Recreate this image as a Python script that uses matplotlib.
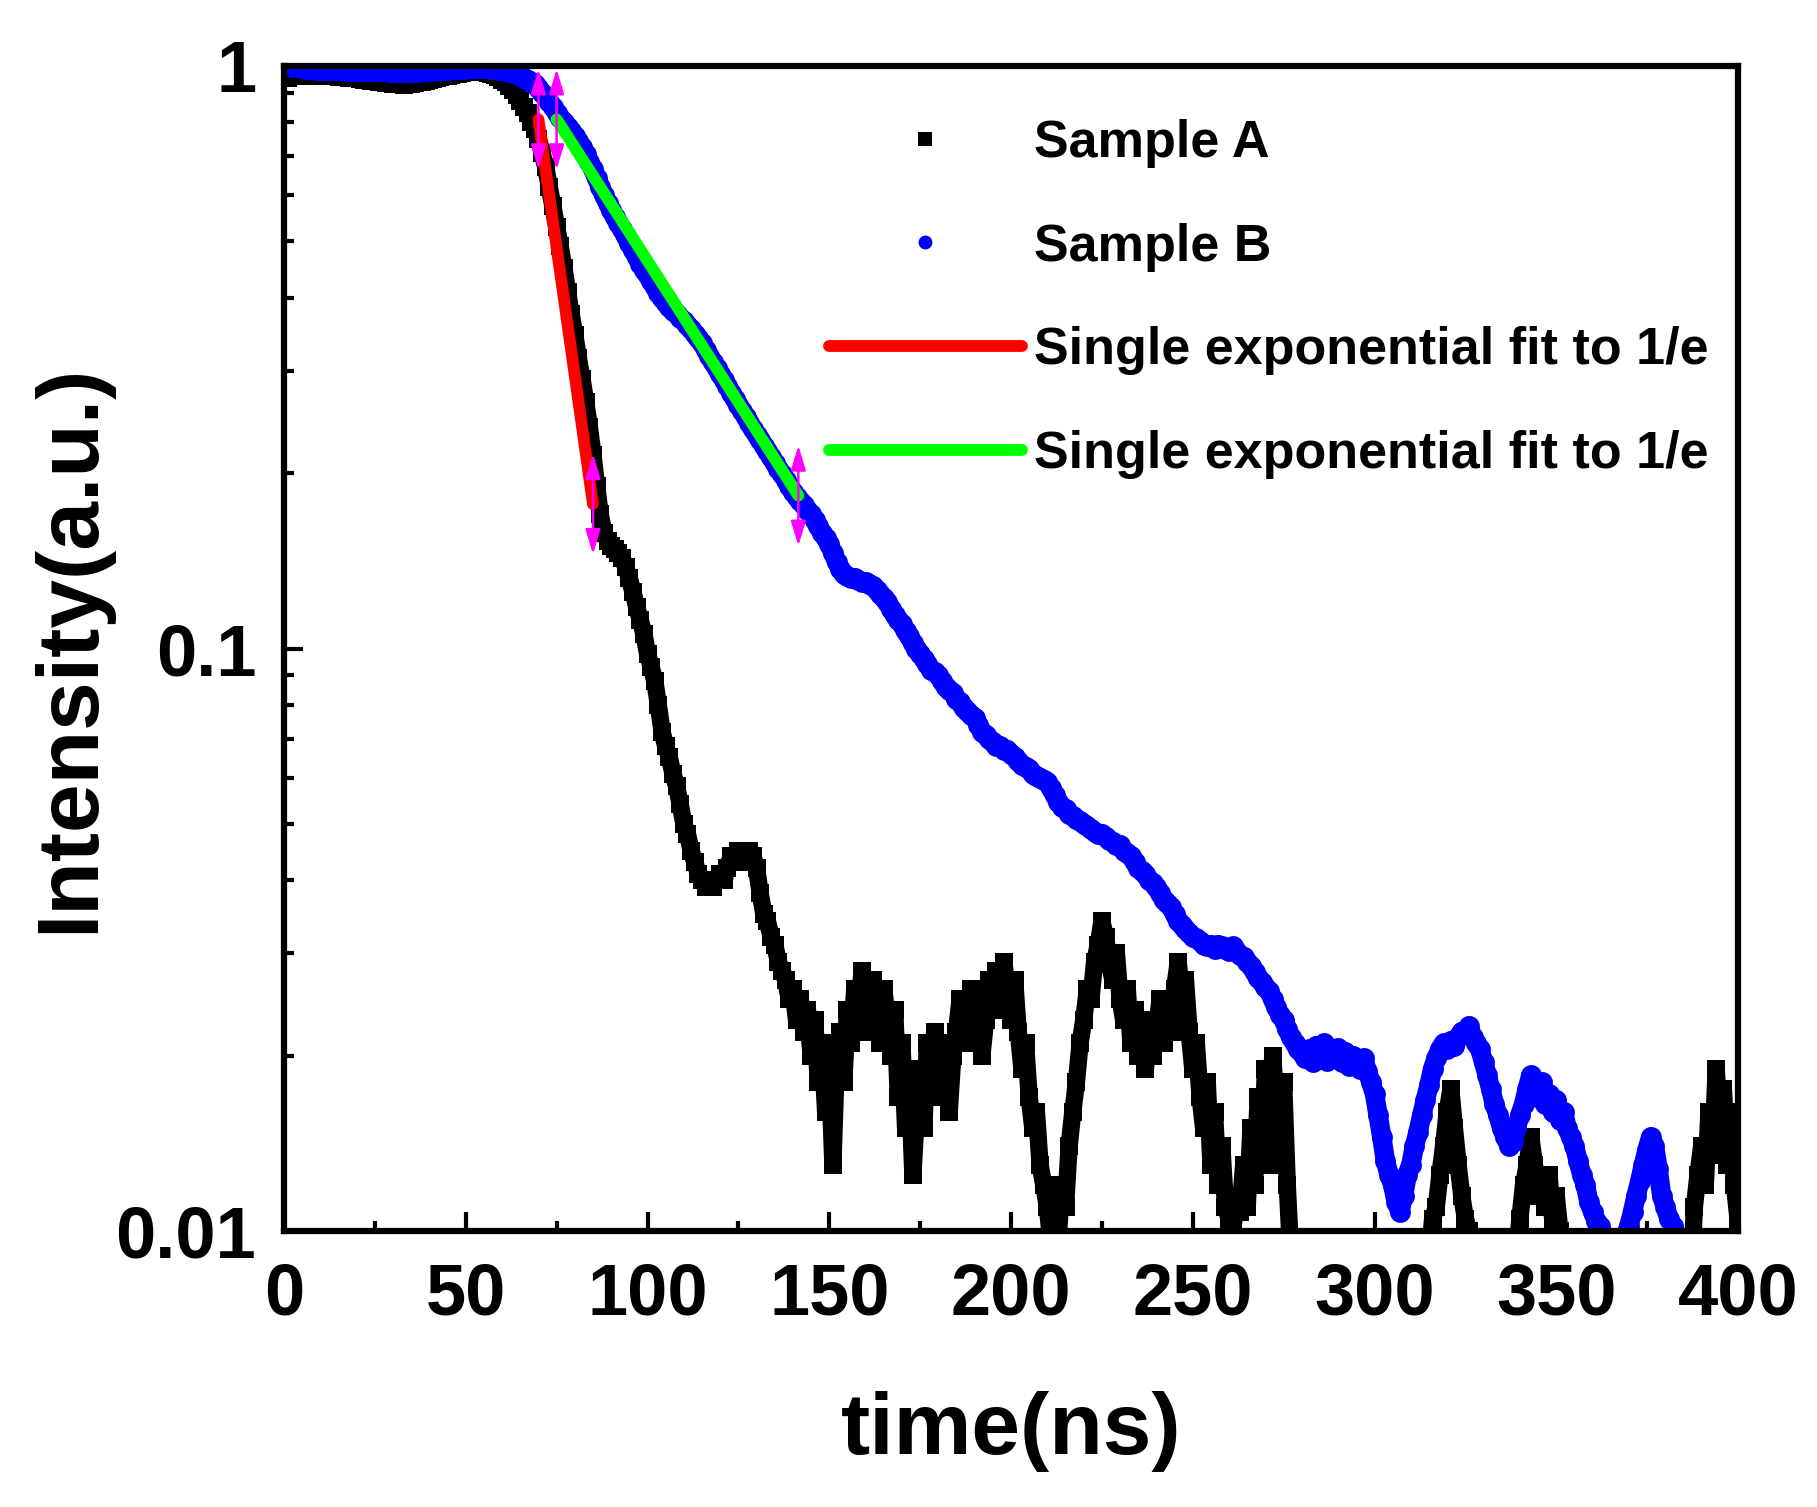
import numpy as np
import matplotlib
matplotlib.use("Agg")
import matplotlib.pyplot as plt
from matplotlib.lines import Line2D
from matplotlib.ticker import MultipleLocator, LogLocator, NullFormatter, FixedLocator, FixedFormatter

plt.rcParams['font.family'] = ['Liberation Sans', 'DejaVu Sans']
plt.rcParams['font.weight'] = 'bold'

# ---------------- data ----------------
time_ns = np.arange(0, 401, 1)

sample_a = [
    0.975, 0.955, 0.965, 0.96, 0.965, 0.962, 0.965, 0.962, 0.965, 0.962,
    0.962, 0.96, 0.962, 0.96, 0.96, 0.958, 0.958, 0.956, 0.955, 0.953,
    0.952, 0.95, 0.948, 0.946, 0.944, 0.942, 0.94, 0.938, 0.936, 0.934,
    0.932, 0.93, 0.93, 0.928, 0.93, 0.932, 0.934, 0.937, 0.94, 0.943,
    0.946, 0.95, 0.953, 0.956, 0.96, 0.962, 0.965, 0.967, 0.97, 0.973,
    0.976, 0.99, 1.0, 0.985, 0.978, 0.975, 0.972, 0.968, 0.964, 0.958,
    0.948, 0.937, 0.925, 0.908, 0.89, 0.87, 0.85, 0.83, 0.80, 0.78,
    0.75, 0.71, 0.67, 0.62, 0.575, 0.53, 0.49, 0.45, 0.41, 0.375,
    0.345, 0.315, 0.29, 0.265, 0.24, 0.215, 0.19, 0.17, 0.158, 0.153,
    0.15, 0.148, 0.146, 0.143, 0.138, 0.132, 0.125, 0.118, 0.112, 0.106,
    0.098, 0.093, 0.088, 0.08, 0.072, 0.068, 0.065, 0.061, 0.058, 0.054,
    0.05, 0.048, 0.045, 0.043, 0.041, 0.04, 0.039, 0.04, 0.039, 0.04,
    0.041, 0.04, 0.042, 0.044, 0.043, 0.045, 0.044, 0.043, 0.045, 0.044,
    0.042, 0.038, 0.035, 0.034, 0.032, 0.031, 0.029, 0.028, 0.027, 0.025,
    0.026, 0.023, 0.025, 0.022, 0.024, 0.02, 0.023, 0.018, 0.021, 0.016,
    0.019, 0.013, 0.02, 0.022, 0.018, 0.024, 0.021, 0.026, 0.023, 0.028,
    0.025, 0.022, 0.027, 0.024, 0.021, 0.026, 0.023, 0.02, 0.024, 0.017,
    0.021, 0.015, 0.018, 0.0125, 0.016, 0.019, 0.015, 0.021, 0.018, 0.022,
    0.019, 0.017, 0.021, 0.016, 0.02, 0.022, 0.025, 0.021, 0.024, 0.026,
    0.022, 0.025, 0.02, 0.023, 0.027, 0.024, 0.028, 0.025, 0.029, 0.026,
    0.023, 0.027, 0.022, 0.019, 0.021, 0.017, 0.015, 0.016, 0.013, 0.012,
    0.011, 0.0095, 0.0105, 0.0098, 0.012, 0.011, 0.014, 0.016, 0.018, 0.021,
    0.023, 0.026, 0.025, 0.029, 0.031, 0.034, 0.032, 0.029, 0.027, 0.03,
    0.025, 0.023, 0.026, 0.021, 0.024, 0.02, 0.022, 0.019, 0.023, 0.02,
    0.022, 0.025, 0.021, 0.024, 0.022, 0.026, 0.029, 0.025, 0.027, 0.022,
    0.019, 0.021, 0.017, 0.015, 0.018, 0.013, 0.016, 0.012, 0.014, 0.011,
    0.0105, 0.01, 0.0115, 0.0108, 0.013, 0.011, 0.015, 0.012, 0.017, 0.013,
    0.019, 0.014, 0.02, 0.016, 0.013, 0.018, 0.012, 0.009, 0.0085, 0.008,
    0.008, 0.008, 0.008, 0.008, 0.008, 0.008, 0.008, 0.008, 0.008, 0.008,
    0.008, 0.008, 0.008, 0.008, 0.008, 0.008, 0.008, 0.008, 0.008, 0.008,
    0.008, 0.008, 0.008, 0.008, 0.008, 0.008, 0.008, 0.008, 0.008, 0.008,
    0.008, 0.008, 0.008, 0.008, 0.008, 0.009, 0.0105, 0.011, 0.0125, 0.014,
    0.016, 0.0175, 0.015, 0.013, 0.0115, 0.0105, 0.01, 0.009, 0.008, 0.008,
    0.008, 0.008, 0.008, 0.008, 0.008, 0.008, 0.008, 0.008, 0.008, 0.009,
    0.0105, 0.012, 0.013, 0.0145, 0.013, 0.0115, 0.012, 0.011, 0.0125, 0.0105,
    0.0115, 0.01, 0.009, 0.008, 0.008, 0.008, 0.008, 0.008, 0.008, 0.008,
    0.008, 0.008, 0.008, 0.008, 0.008, 0.008, 0.008, 0.008, 0.008, 0.008,
    0.008, 0.008, 0.008, 0.008, 0.008, 0.008, 0.008, 0.008, 0.008, 0.008,
    0.008, 0.008, 0.008, 0.008, 0.008, 0.008, 0.008, 0.008, 0.011, 0.0125,
    0.014, 0.012, 0.016, 0.0135, 0.019, 0.015, 0.0175, 0.013, 0.016, 0.012,
    0.0105,
]

sample_b = [
    1.0, 1.0, 0.998, 1.0, 0.995, 0.992, 0.99, 0.988, 0.987, 0.986,
    0.985, 0.985, 0.984, 0.985, 0.983, 0.984, 0.983, 0.983, 0.982, 0.982,
    0.982, 0.982, 0.981, 0.981, 0.98, 0.98, 0.98, 0.979, 0.979, 0.978,
    0.978, 0.977, 0.977, 0.976, 0.977, 0.977, 0.978, 0.978, 0.979, 0.98,
    0.981, 0.982, 0.983, 0.984, 0.985, 0.986, 0.987, 0.988, 0.988, 0.989,
    0.99, 0.991, 0.992, 0.993, 0.993, 0.992, 0.991, 0.99, 0.988, 0.986,
    0.983, 0.98, 0.976, 0.972, 0.967, 0.962, 0.955, 0.948, 0.94, 0.93,
    0.915, 0.9, 0.885, 0.868, 0.85, 0.832, 0.815, 0.8, 0.785, 0.772,
    0.758, 0.742, 0.725, 0.705, 0.685, 0.665, 0.642, 0.62, 0.6, 0.582,
    0.565, 0.55, 0.537, 0.524, 0.51, 0.496, 0.483, 0.47, 0.458, 0.447,
    0.437, 0.428, 0.418, 0.408, 0.399, 0.392, 0.386, 0.38, 0.375, 0.37,
    0.365, 0.359, 0.353, 0.347, 0.341, 0.334, 0.326, 0.318, 0.31, 0.303,
    0.296, 0.289, 0.282, 0.275, 0.268, 0.262, 0.256, 0.25, 0.244, 0.238,
    0.233, 0.228, 0.223, 0.218, 0.213, 0.208, 0.203, 0.199, 0.195, 0.19,
    0.186, 0.182, 0.179, 0.176, 0.173, 0.17, 0.166, 0.162, 0.158, 0.155,
    0.151, 0.146, 0.141, 0.137, 0.134, 0.133, 0.132, 0.132, 0.131, 0.13,
    0.13, 0.129, 0.128, 0.126, 0.124, 0.122, 0.12, 0.117, 0.114, 0.112,
    0.11, 0.107, 0.105, 0.102, 0.1, 0.098, 0.096, 0.094, 0.092, 0.091,
    0.09, 0.088, 0.086, 0.085, 0.084, 0.082, 0.081, 0.079, 0.078, 0.077,
    0.076, 0.074, 0.072, 0.071, 0.07, 0.069, 0.068, 0.068, 0.067, 0.067,
    0.066, 0.065, 0.064, 0.063, 0.0625, 0.062, 0.061, 0.0605, 0.06, 0.0595,
    0.059, 0.0575, 0.056, 0.0545, 0.0535, 0.053, 0.052, 0.0515, 0.051, 0.0505,
    0.05, 0.0495, 0.049, 0.0485, 0.048, 0.048, 0.0475, 0.047, 0.0465, 0.046,
    0.046, 0.045, 0.0445, 0.044, 0.043, 0.042, 0.0415, 0.041, 0.04, 0.0395,
    0.039, 0.038, 0.037, 0.0365, 0.036, 0.035, 0.034, 0.0335, 0.033, 0.0325,
    0.032, 0.0318, 0.0315, 0.031, 0.0308, 0.031, 0.0305, 0.031, 0.0308, 0.0305,
    0.0303, 0.0308, 0.0303, 0.0298, 0.0295, 0.029, 0.0285, 0.0278, 0.0272, 0.0268,
    0.0262, 0.0258, 0.025, 0.0242, 0.0235, 0.023, 0.0222, 0.0215, 0.021, 0.0205,
    0.0202, 0.0198, 0.0205, 0.0195, 0.0208, 0.02, 0.021, 0.0196, 0.0205, 0.0198,
    0.0206, 0.0195, 0.0203, 0.0192, 0.02, 0.0195, 0.019, 0.0198, 0.0188, 0.018,
    0.0172, 0.0158, 0.0145, 0.0132, 0.0125, 0.012, 0.0112, 0.0108, 0.0115, 0.0125,
    0.013, 0.014, 0.0148, 0.0158, 0.0168, 0.0178, 0.019, 0.0198, 0.0205, 0.021,
    0.0205, 0.0212, 0.0208, 0.0215, 0.022, 0.0218, 0.0225, 0.0215, 0.021, 0.0205,
    0.0195, 0.0185, 0.0175, 0.0165, 0.0158, 0.015, 0.0145, 0.014, 0.0142, 0.015,
    0.0158, 0.0165, 0.0175, 0.0185, 0.0178, 0.017, 0.018, 0.0165, 0.0172, 0.016,
    0.0168, 0.0155, 0.016, 0.015, 0.0145, 0.014, 0.0132, 0.0125, 0.012, 0.0112,
    0.0108, 0.0104, 0.0102, 0.0098, 0.0095, 0.009, 0.0088, 0.009, 0.0095, 0.0098,
    0.0102, 0.0108, 0.0115, 0.0122, 0.013, 0.0138, 0.0145, 0.014, 0.0128, 0.0115,
    0.011, 0.0105, 0.0102, 0.0098, 0.0095, 0.009, 0.0088, 0.0085, 0.0085, 0.0085,
    0.0085, 0.0085, 0.0085, 0.0085, 0.0085, 0.0085, 0.0085, 0.0085, 0.0085, 0.0085,
    0.0085,
]

# single-exponential fits (straight lines on a log axis): end points
fit_a_t = [70.0, 85.0]
fit_a_i = [0.81, 0.177]
fit_b_t = [75.0, 141.5]
fit_b_i = [0.81, 0.183]

labels = ["Sample A", "Sample B",
          "Single exponential fit to 1/e", "Single exponential fit to 1/e"]
x_ticks = [0, 50, 100, 150, 200, 250, 300, 350, 400]
y_ticks = [0.01, 0.1, 1]
y_tick_labels = ["0.01", "0.1", "1"]

# ---------------- figure ----------------
fig = plt.figure(figsize=(18.17, 15.07), dpi=100)
ax = fig.add_axes([284 / 1817, 1 - 1231 / 1507, (1738 - 284) / 1817, (1231 - 66) / 1507])

BLACK = '#000000'
BLUE = '#0000ff'
# dense point clouds: markers joined by a ribbon of the same colour
ax.plot(time_ns, sample_a, ls='-', lw=12.5, color=BLACK, marker='s', ms=13,
        mew=0, solid_joinstyle='round', solid_capstyle='butt', zorder=2)
ax.plot(time_ns, sample_b, ls='-', lw=14, color=BLUE, marker='o', ms=15,
        mew=0, solid_joinstyle='round', solid_capstyle='round', zorder=3)
lr, = ax.plot(fit_a_t, fit_a_i, color='#ff0000', lw=8.5, solid_capstyle='round', zorder=4)
lg, = ax.plot(fit_b_t, fit_b_i, color='#00ff00', lw=8.5, solid_capstyle='round', zorder=4)

# data-selector arrows at the fit range ends
for tt, ii in [(fit_a_t[0], fit_a_i[0]), (fit_a_t[1], fit_a_i[1]),
               (fit_b_t[0], fit_b_i[0]), (fit_b_t[1], fit_b_i[1])]:
    ax.annotate("", xy=(tt, ii * 1.22), xytext=(tt, ii / 1.22),
                arrowprops=dict(arrowstyle='<|-|>,head_length=1.5,head_width=0.45',
                                color='#ff00ff', lw=1.8, shrinkA=0, shrinkB=0),
                zorder=5)

ax.set_yscale('log')
ax.set_xlim(0, 400)
ax.set_ylim(0.01, 1)

ax.xaxis.set_major_locator(FixedLocator(x_ticks))
ax.xaxis.set_minor_locator(MultipleLocator(25))
ax.yaxis.set_major_locator(FixedLocator(y_ticks))
ax.yaxis.set_major_formatter(FixedFormatter(y_tick_labels))
ax.yaxis.set_minor_locator(LogLocator(base=10, subs=np.arange(2, 10)))
ax.yaxis.set_minor_formatter(NullFormatter())

ax.tick_params(which='both', direction='in', top=False, right=False, width=3)
ax.tick_params(which='major', length=14, labelsize=52)
ax.tick_params(axis='x', which='major', pad=22)
ax.tick_params(axis='y', which='major', pad=20)
ax.tick_params(which='minor', length=7)
for lab in ax.get_xticklabels() + ax.get_yticklabels():
    lab.set_fontweight('bold')

for sp in ax.spines.values():
    sp.set_linewidth(4.5)
    sp.set_zorder(6)

ax.set_xlabel("time(ns)", fontsize=63, fontweight='bold', va='center')
ax.xaxis.set_label_coords(0.5, -0.172)
ax.set_ylabel("Intensity(a.u.)", fontsize=63, fontweight='bold', va='center')
ax.yaxis.set_label_coords(-0.147, 0.5)

# legend handles (symbols only for the point series)
ha = Line2D([], [], ls='none', marker='s', ms=10, color=BLACK, mew=0)
hb = Line2D([], [], ls='none', marker='o', ms=10, color=BLUE, mew=0)
leg = ax.legend([ha, hb, lr, lg], labels, loc='upper left',
                bbox_to_anchor=((829 - 284) / 1454, (1231 - 119) / 1165),
                frameon=False, handlelength=3.7, handletextpad=0.23,
                labelspacing=1.05, borderpad=0, borderaxespad=0, numpoints=1,
                prop={'family': ['Liberation Sans', 'DejaVu Sans'],
                      'weight': 'bold', 'size': 37.5})

fig.savefig("out.png", dpi=100)
